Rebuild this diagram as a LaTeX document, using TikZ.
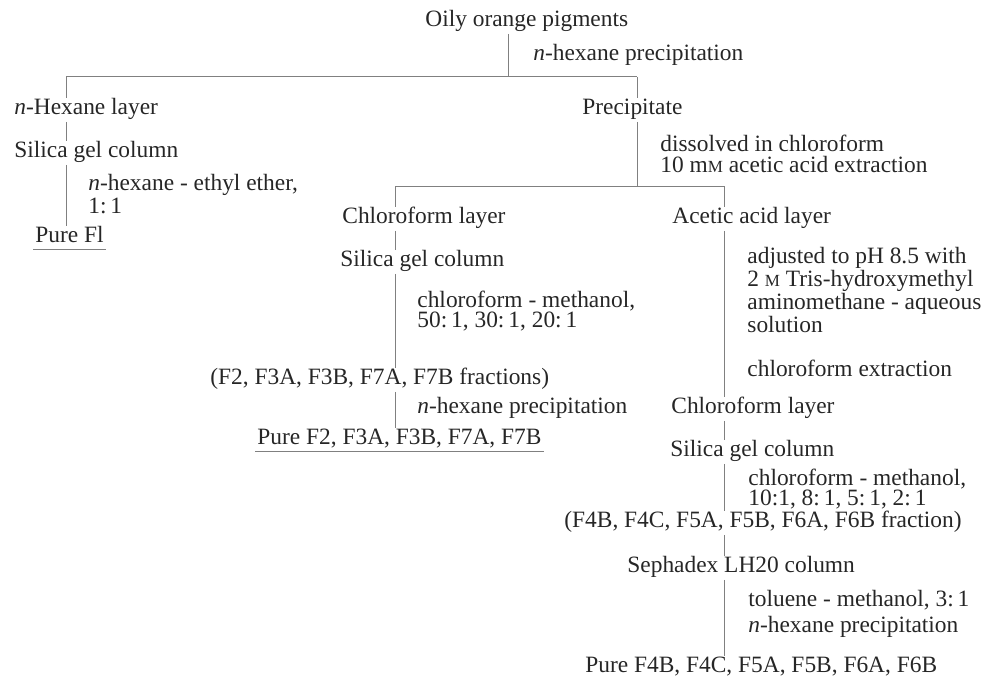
\documentclass[tikz,border=0pt]{standalone}
\usepackage{fontspec}
\setmainfont{Liberation Serif}
\usetikzlibrary{positioning}
\newcommand{\smM}{{\fontsize{8.5}{10}\selectfont M}}
\tikzset{
  stage/.style={anchor=west, inner sep=1pt, text height=7pt, text depth=2.4pt},
  note/.style={anchor=west, inner sep=0pt, align=left},
  link/.style={draw=black!50, line width=0.5pt},
}
\begin{document}
\begin{tikzpicture}[x=0.5pt, y=-0.5pt, font=\fontsize{11.7}{10.2}\selectfont, text=black!85]
\useasboundingbox (0,0) rectangle (988,695);
% stages
\node[stage] (oily) at (423,22) {Oily orange pigments};
\node[stage] (hexlayer) at (12,110) {\textit{n}-Hexane layer};
\node[stage] (silicaA) at (12,153) {Silica gel column};
\node[stage] (pureF1) at (33,238) {Pure Fl};
\node[stage] (precip) at (580,110) {Precipitate};
\node[stage] (chlA) at (340,219) {Chloroform layer};
\node[stage] (silicaB) at (338,262) {Silica gel column};
\node[stage] (fracA) at (208,380) {(F2, F3A, F3B, F7A, F7B fractions)};
\node[stage] (pureA) at (255,440) {Pure F2, F3A, F3B, F7A, F7B};
\node[stage] (acetic) at (670,219) {Acetic acid layer};
\node[stage] (chlB) at (669,409) {Chloroform layer};
\node[stage] (silicaC) at (668,452) {Silica gel column};
\node[stage] (fracB) at (562,523) {(F4B, F4C, F5A, F5B, F6A, F6B fraction)};
\node[stage] (sephadex) at (625,568) {Sephadex LH20 column};
\node[stage] (pureB) at (583,668) {Pure F4B, F4C, F5A, F5B, F6A, F6B};
% treatments
\node[note] (hexprecA) at (533,55) {\textit{n}-hexane precipitation};
\node[note] (etherA) at (88,194) {\textit{n}-hexane - ethyl ether,\\1:\,1};
\node[note] (dissolved) at (660,154) {dissolved in chloroform\\10 m\smM{} acetic acid extraction};
\node[note] (cmA) at (417,311) {chloroform - methanol,\\50:\,1, 30:\,1, 20:\,1};
\node[note] (hexprecB) at (417,408) {\textit{n}-hexane precipitation};
\node[note] (adjusted) at (747,290) {adjusted to pH 8.5 with\\2 \smM{} Tris-hydroxymethyl\\aminomethane - aqueous\\solution};
\node[note] (chlext) at (747,368) {chloroform extraction};
\node[note] (cmB) at (748,489) {chloroform - methanol,\\10:1, 8:\,1, 5:\,1, 2:\,1};
\node[note] (toluene) at (748,600) {toluene - methanol, 3:\,1};
\node[note] (hexprecC) at (748,627) {\textit{n}-hexane precipitation};
% splits
\coordinate (splitA) at (508,77);
\coordinate (barAL) at (66,77);
\coordinate (barAR) at (637,77);
\coordinate (splitB) at (637,186);
\coordinate (barBL) at (395,186);
\coordinate (barBR) at (724,186);
\draw[link] (oily.south -| splitA) -- (splitA);
\draw[link] (barAL) -- (barAR);
\draw[link] (barAL) -- (hexlayer.north -| barAL);
\draw[link] (hexlayer.south -| barAL) -- (silicaA.north -| barAL);
\draw[link] (silicaA.south -| barAL) -- (pureF1.north -| barAL);
\draw[link] (barAR) -- (precip.north -| barAR);
\draw[link] (precip.south -| barAR) -- (splitB);
\draw[link] (barBL) -- (barBR);
\draw[link] (barBL) -- (chlA.north -| barBL);
\draw[link] (chlA.south -| barBL) -- (silicaB.north -| barBL);
\draw[link] (silicaB.south -| barBL) -- (fracA.north -| barBL);
\draw[link] (fracA.south -| barBL) -- (pureA.north -| barBL);
\draw[link] (barBR) -- (acetic.north -| barBR);
\draw[link] (acetic.south -| barBR) -- (chlB.north -| barBR);
\draw[link] (chlB.south -| barBR) -- (silicaC.north -| barBR);
\draw[link] (silicaC.south -| barBR) -- (fracB.north -| barBR);
\draw[link] (fracB.south -| barBR) -- (sephadex.north -| barBR);
\draw[link] (sephadex.south -| barBR) -- (pureB.north -| barBR);
% pure products
\draw[link] (pureF1.south west) -- (pureF1.south east);
\draw[link] (pureA.south west) -- (pureA.south east);
\end{tikzpicture}
\end{document}
